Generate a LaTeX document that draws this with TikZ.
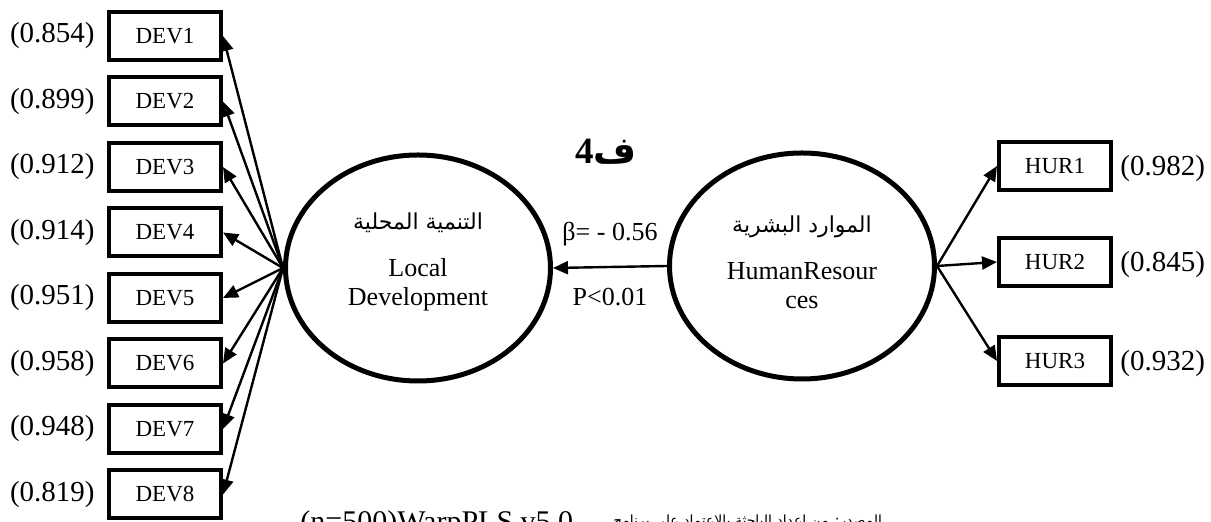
\documentclass[tikz,border=0pt]{standalone}
\usepackage{fontspec}
\setmainfont{Liberation Serif}
\newfontfamily\arabicfont[Script=Arabic]{DejaVu Sans}
\TeXXeTstate=1
\usetikzlibrary{shapes.geometric,arrows.meta}

\begin{document}
\begin{tikzpicture}[x=0.5pt,y=-0.5pt,
  indicator/.style={draw,line width=2pt,minimum width=56pt,minimum height=24pt,
    inner sep=0pt,font=\fontsize{11.5}{13}\selectfont},
  construct/.style={draw,ellipse,line width=2.5pt,minimum width=132.5pt,
    minimum height=113pt,inner sep=0pt},
  loading/.style={inner sep=0pt,font=\fontsize{14.5}{16}\selectfont},
  lbl/.style={inner sep=0pt,align=center,font=\fontsize{13}{14.5}\selectfont},
  path arrow/.style={line width=1.2pt,-{Triangle[length=7.5pt,width=6.5pt]}}]
\useasboundingbox (0,0) rectangle (1211,522);
\clip (0,0) rectangle (1211,522);

% latent variables
\node[construct] (dev) at (418,268) {};
\node[construct] (hur) at (802,266) {};
\node[lbl] (devtxt) at (418,262)
  {{\arabicfont\fontsize{11}{13}\selectfont\beginR التنمية المحلية\endR}\\[9pt]
   Local\\ Development};
\node[lbl] (hurtxt) at (802,262)
  {{\arabicfont\fontsize{11}{13}\selectfont\beginR الموارد البشرية\endR}\\[9pt]
   HumanResour\\ ces};
\node[inner sep=0pt,font=\fontsize{18.5}{20}\selectfont\bfseries] (hyp) at (606,152)
  {\beginR{\arabicfont\bfseries ف}4\endR};

% structural path
\draw[path arrow] (hur.west) -- node[lbl,above=10pt] (beta) {β= - 0.56}
  node[lbl,below=10pt] (pval) {P<0.01} (dev.east);

% indicators of local development
\foreach \i/\v in {1/0.854,2/0.899,3/0.912,4/0.914,5/0.951,6/0.958,7/0.948,8/0.819}{
  \node[indicator] (d\i) at (165,{36+65.5*(\i-1)}) {DEV\i};
  \node[loading,anchor=east] (dv\i) at ([xshift=-6pt]d\i.west) {(\v)};
  \draw[path arrow] (dev.west) -- (d\i.east);
}

% indicators of human resources
\foreach \i/\y/\v in {1/166/0.982,2/262/0.845,3/361/0.932}{
  \node[indicator] (h\i) at (1055,\y) {HUR\i};
  \node[loading,anchor=west] (hv\i) at ([xshift=3.5pt,yshift=-1.5pt]h\i.east) {(\v)};
  \draw[path arrow] (hur.east) -- (h\i.west);
}

% source line (cut by the page edge, as in the figure)
\node[inner sep=0pt,anchor=base west,font=\fontsize{15}{17}\selectfont] (src) at (300,532)
  {(n=500)WarpPLS v5.0};
\node[inner sep=0pt,anchor=base west,font=\arabicfont\fontsize{7}{9}\selectfont] (srcar) at (613,526)
  {\beginR المصدر: من إعداد الباحثة بالاعتماد على برنامج\endR};
\end{tikzpicture}
\end{document}
